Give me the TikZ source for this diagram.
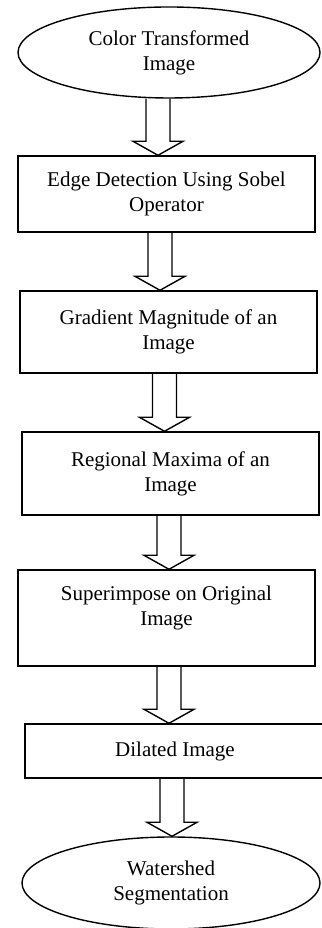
\documentclass[tikz,border=0pt]{standalone}
\usepackage{fontspec}
\setmainfont{Liberation Serif}
\usetikzlibrary{shapes.geometric,calc}

\begin{document}
\begin{tikzpicture}[x=1pt,y=1pt,
      box/.style={draw,line width=1.4pt,minimum width=297pt,inner sep=0pt,align=center,
                  font=\fontsize{21}{25}\selectfont},
      oval/.style={box,ellipse},
      blk/.style={draw,line width=1.4pt,line join=miter}]
    \useasboundingbox (0,0) rectangle (321,928);
    % chain of steps, top to bottom
    \node[oval,minimum width=302pt,minimum height=91pt] (cti) at (169,875.5) {Color Transformed\\ Image};
    \node[box,minimum height=76pt] (sobel) at (166.5,734) {Edge Detection Using Sobel\\ Operator};
    \node[box,minimum height=82pt] (grad) at (168.5,596) {Gradient Magnitude of an\\ Image};
    \node[box,minimum height=83pt] (rmax) at (170.5,454.5) {Regional Maxima of an\\ Image};
    \node[box,minimum height=96pt] (sup) at (166.5,310) {Superimpose on Original\\ Image\\ \mbox{}};
    \node[box,minimum width=300pt,minimum height=54pt] (dil) at (175,177) {Dilated Image};
    \node[oval,minimum width=298pt,minimum height=92pt] (wss) at (171,45) {Watershed\\ Segmentation};
    % hollow block arrows
    \foreach \a/\b/\ax in {cti/sobel/158,sobel/grad/160,grad/rmax/164.5,rmax/sup/169,sup/dil/169,dil/wss/172}
      \draw[blk] let \p1=(\a.south), \p2=(\b.north) in
        (\ax pt-12pt,\y1) -- (\ax pt-12pt,\y2+14pt) -- (\ax pt-25pt,\y2+14pt) -- (\ax pt,\y2)
        -- (\ax pt+25pt,\y2+14pt) -- (\ax pt+12pt,\y2+14pt) -- (\ax pt+12pt,\y1);
  \end{tikzpicture}
\end{document}
